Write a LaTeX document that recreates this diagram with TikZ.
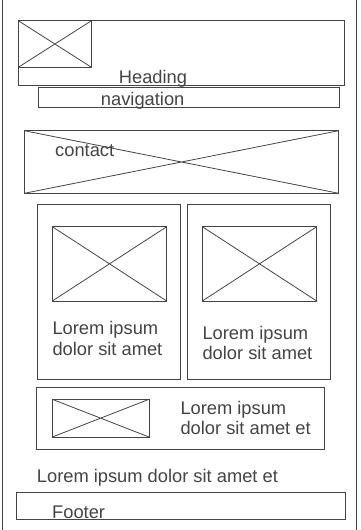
\documentclass[tikz,border=0pt]{standalone}
\usepackage{fontspec}
\setmainfont{Liberation Sans}
\definecolor{wire}{HTML}{444444}
\begin{document}
\begin{tikzpicture}[x=1pt, y=-1pt,
    box/.style={draw=wire, line width=1pt, rectangle, inner sep=0pt, outer sep=0pt},
    imgbox/.style={box, path picture={
        \draw[wire, line width=0.8pt] (path picture bounding box.north west) -- (path picture bounding box.south east)
            (path picture bounding box.south west) -- (path picture bounding box.north east);}},
    txt/.style={text=wire, inner sep=0pt, font=\fontsize{18.3}{20.7}\selectfont, align=left}]
\useasboundingbox (0,0) rectangle (360,530);

% page edges
\draw[wire, line width=1pt] (2.5,0) -- (2.5,530);
\draw[wire, line width=1pt] (356,0) -- (356,530);

% header
\node[box, minimum width=326.4pt, minimum height=64.6pt] (head) at (181.5,53) {};
\node[imgbox, minimum width=73.2pt, minimum height=46.6pt] (logo) at (54.9,44) {};
\node[txt, anchor=base] (heading) at (153,83.3) {Heading};
\node[box, minimum width=301.4pt, minimum height=19.6pt] (nav) at (189,97.5) {};
\node[txt, anchor=base] (navtext) at (142.7,105.3) {navigation};

% contact banner
\node[imgbox, minimum width=314.4pt, minimum height=62.6pt] (contact) at (181.5,162) {};
\node[txt, anchor=base west] (contacttext) at (55,156.7) {contact};

% two cards, text anchored on its last line
\foreach \cx/\ty [count=\i] in {109/355.4, 259/359.7} {
    \node[box, minimum width=143.4pt, minimum height=175pt] (card\i) at (\cx,291.8) {};
    \node[imgbox, minimum width=114.4pt, minimum height=74.3pt] (pic\i) at (\cx+0.5,263.85) {};
    \node[txt, anchor=base west] (cardtext\i) at (\cx-56.7,\ty) {Lorem ipsum\\dolor sit amet};
}

% wide strip
\node[box, minimum width=288.4pt, minimum height=62pt] (strip) at (180.5,418.3) {};
\node[imgbox, minimum width=96.7pt, minimum height=37.7pt] (strippic) at (100.65,418.15) {};
\node[txt, anchor=base west] (striptext) at (180.3,434.9) {Lorem ipsum\\dolor sit amet et};

\node[txt, anchor=base west] (line) at (36.7,482.2) {Lorem ipsum dolor sit amet et};

% footer
\node[box, minimum width=328.6pt, minimum height=27.3pt] (foot) at (181,505.65) {};
\node[txt, anchor=base west] (foottext) at (52,518.6) {Footer};
\end{tikzpicture}
\end{document}
